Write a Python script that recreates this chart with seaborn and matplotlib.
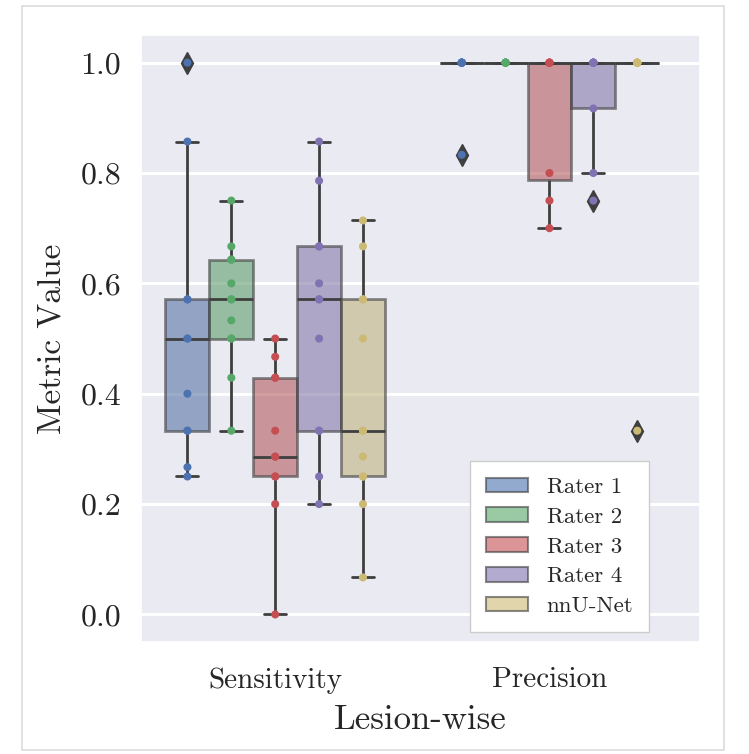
import pandas as pd
import matplotlib
matplotlib.use("Agg")
import matplotlib.pyplot as plt
from matplotlib.patches import Patch, Rectangle
import seaborn as sns

# Data (lesion-wise metrics per rater)
metrics = ["Sensitivity", "Precision"]
raters = ["Rater 1", "Rater 2", "Rater 3", "Rater 4", "nnU-Net"]
colors = ["#4C72B0", "#55A868", "#C44E52", "#8172B2", "#CCB974"]  # old seaborn "deep"

sens_rater1 = [1.0, 0.857, 0.571, 0.571, 0.5, 0.5, 0.4, 0.333, 0.333, 0.267, 0.25]
sens_rater2 = [0.75, 0.667, 0.643, 0.643, 0.6, 0.571, 0.571, 0.533, 0.5, 0.5, 0.429, 0.333]
sens_rater3 = [0.5, 0.467, 0.429, 0.429, 0.333, 0.286, 0.286, 0.25, 0.25, 0.2, 0.0]
sens_rater4 = [0.857, 0.786, 0.667, 0.667, 0.6, 0.571, 0.571, 0.5, 0.333, 0.333, 0.25, 0.2]
sens_nnunet = [0.714, 0.667, 0.571, 0.571, 0.5, 0.333, 0.333, 0.286, 0.25, 0.25, 0.2, 0.067]

prec_rater1 = [1.0, 1.0, 1.0, 1.0, 1.0, 1.0, 1.0, 0.833]
prec_rater2 = [1.0, 1.0, 1.0, 1.0, 1.0, 1.0]
prec_rater3 = [1.0, 1.0, 1.0, 1.0, 1.0, 0.8, 0.75, 0.7]
prec_rater4 = [1.0, 1.0, 1.0, 1.0, 1.0, 1.0, 0.917, 0.8, 0.75]
prec_nnunet = [1.0, 1.0, 1.0, 1.0, 1.0, 1.0, 1.0, 0.333]

sens_values = [sens_rater1, sens_rater2, sens_rater3, sens_rater4, sens_nnunet]
prec_values = [prec_rater1, prec_rater2, prec_rater3, prec_rater4, prec_nnunet]

rows = []
for metric, per_rater in zip(metrics, [sens_values, prec_values]):
    for rater, vals in zip(raters, per_rater):
        for v in vals:
            rows.append({"metric": metric, "rater": rater, "value": v})
df = pd.DataFrame(rows)

sns.set_theme(style="darkgrid")
plt.rcParams["font.family"] = ["cmr10", "DejaVu Serif"]
plt.rcParams["axes.formatter.use_mathtext"] = True
plt.rcParams["mathtext.fontset"] = "cm"

palette = dict(zip(raters, colors))
line_col = "#3f3f3f"

fig = plt.figure(figsize=(7.49, 7.54), dpi=100)
ax = fig.add_axes([0.188, 0.1485, 0.747, 0.805])

sns.boxplot(
    data=df, x="metric", y="value", hue="rater", order=metrics, hue_order=raters,
    palette=palette, width=0.8, gap=0, linewidth=2, linecolor=line_col,
    boxprops=dict(alpha=0.6),
    flierprops=dict(marker="d", markersize=11, markerfacecolor=line_col,
                    markeredgecolor=line_col),
    legend=False, ax=ax,
)
sns.stripplot(
    data=df, x="metric", y="value", hue="rater", order=metrics, hue_order=raters,
    palette=palette, dodge=True, jitter=False, size=5.8, legend=False, ax=ax,
)

ax.set_ylim(-0.05, 1.05)
ax.set_xlim(-0.49, 1.55)
ax.set_yticks([0.0, 0.2, 0.4, 0.6, 0.8, 1.0])
ax.set_yticklabels(["0.0", "0.2", "0.4", "0.6", "0.8", "1.0"])
ax.tick_params(axis="y", labelsize=23, pad=8)
ax.tick_params(axis="x", labelsize=21, pad=12)
ax.set_ylabel("Metric Value", fontsize=24, labelpad=10)
ax.set_xlabel("Lesion-wise", fontsize=25, labelpad=8)
ax.grid(axis="x", visible=False)
ax.grid(axis="y", color="white", linewidth=2.2)

handles = [Patch(facecolor=c, edgecolor=line_col, alpha=0.6, linewidth=1.5) for c in colors]
leg = ax.legend(handles, raters, loc="lower left", bbox_to_anchor=(0.589, 0.016),
                borderaxespad=0, fontsize=16.5, frameon=True, fancybox=False,
                framealpha=1, handlelength=1.8, handleheight=0.6,
                handletextpad=0.83, labelspacing=0.45, borderpad=0.7)
leg.get_frame().set_edgecolor("#cccccc")
leg.get_frame().set_facecolor("white")

fig.patches.append(Rectangle((22 / 749, 4 / 754), 702 / 749, 744 / 754,
                             transform=fig.transFigure, fill=False,
                             edgecolor="#dcdcdc", linewidth=1.2))

fig.savefig("out.png", dpi=100)
